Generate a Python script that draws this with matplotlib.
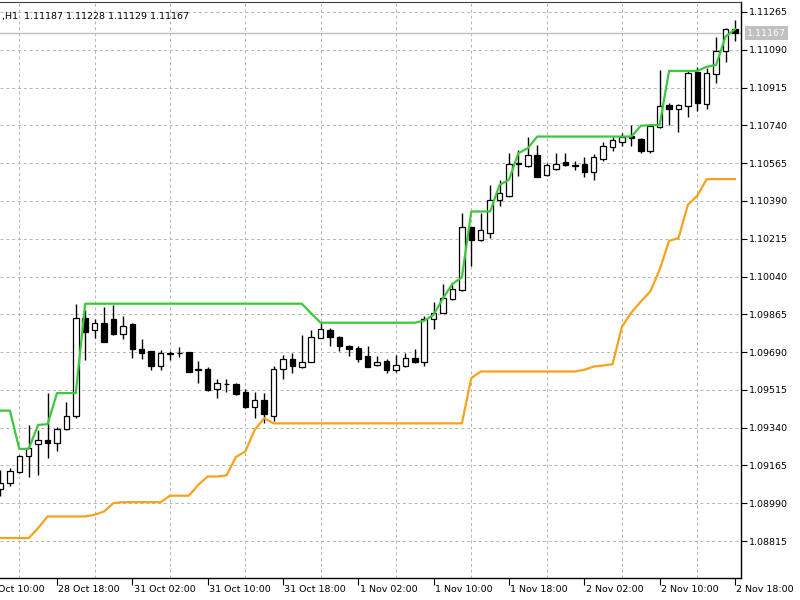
import numpy as np
import matplotlib.pyplot as plt
from matplotlib.transforms import blended_transform_factory

# EURUSD H1 bars, oldest first
opens = [1.09056, 1.09083, 1.09137, 1.09210, 1.09265, 1.09281, 1.09269, 1.09333, 1.09392, 1.09847,
         1.09793, 1.09827, 1.09843, 1.09775, 1.09820, 1.09705, 1.09693, 1.09626, 1.09682, 1.09687,
         1.09690, 1.09610, 1.09611, 1.09519, 1.09543, 1.09543, 1.09505, 1.09438, 1.09469, 1.09395,
         1.09611, 1.09657, 1.09623, 1.09646, 1.09757, 1.09790, 1.09759, 1.09716, 1.09708, 1.09673,
         1.09628, 1.09650, 1.09605, 1.09626, 1.09662, 1.09642, 1.09843, 1.09873, 1.09935, 1.09978,
         1.10269, 1.10210, 1.10241, 1.10392, 1.10414, 1.10564, 1.10552, 1.10603, 1.10511, 1.10537,
         1.10572, 1.10555, 1.10562, 1.10526, 1.10585, 1.10639, 1.10665, 1.10691, 1.10676, 1.10623,
         1.10734, 1.10835, 1.10815, 1.10830, 1.10989, 1.10839, 1.10978, 1.11082, 1.11187]
highs = [1.09145, 1.09153, 1.09214, 1.09353, 1.09330, 1.09500, 1.09345, 1.09457, 1.09914, 1.09886,
         1.09843, 1.09901, 1.09909, 1.09855, 1.09824, 1.09750, 1.09696, 1.09700, 1.09696, 1.09713,
         1.09691, 1.09651, 1.09620, 1.09565, 1.09565, 1.09549, 1.09520, 1.09507, 1.09500, 1.09626,
         1.09677, 1.09685, 1.09767, 1.09793, 1.09827, 1.09801, 1.09765, 1.09724, 1.09719, 1.09716,
         1.09673, 1.09657, 1.09677, 1.09688, 1.09704, 1.09858, 1.09924, 1.10006, 1.10009, 1.10336,
         1.10271, 1.10336, 1.10464, 1.10488, 1.10611, 1.10627, 1.10688, 1.10650, 1.10565, 1.10611,
         1.10614, 1.10577, 1.10593, 1.10608, 1.10664, 1.10684, 1.10704, 1.10742, 1.10681, 1.10742,
         1.10994, 1.10843, 1.10838, 1.10997, 1.11012, 1.11005, 1.11151, 1.11190, 1.11228]
lows = [1.09025, 1.09072, 1.09132, 1.09111, 1.09122, 1.09199, 1.09234, 1.09330, 1.09386, 1.09654,
        1.09755, 1.09736, 1.09770, 1.09750, 1.09662, 1.09659, 1.09608, 1.09605, 1.09654, 1.09667,
        1.09597, 1.09549, 1.09512, 1.09477, 1.09507, 1.09492, 1.09431, 1.09384, 1.09361, 1.09369,
        1.09565, 1.09593, 1.09618, 1.09642, 1.09755, 1.09719, 1.09697, 1.09673, 1.09646, 1.09620,
        1.09624, 1.09593, 1.09600, 1.09620, 1.09639, 1.09626, 1.09796, 1.09870, 1.09929, 1.09975,
        1.10089, 1.10206, 1.10218, 1.10367, 1.10410, 1.10506, 1.10549, 1.10500, 1.10506, 1.10534,
        1.10552, 1.10534, 1.10500, 1.10488, 1.10576, 1.10622, 1.10642, 1.10642, 1.10611, 1.10614,
        1.10727, 1.10742, 1.10711, 1.10778, 1.10804, 1.10815, 1.10938, 1.11035, 1.11129]
closes = [1.09083, 1.09140, 1.09207, 1.09245, 1.09281, 1.09271, 1.09333, 1.09395, 1.09847, 1.09785,
          1.09827, 1.09739, 1.09773, 1.09813, 1.09704, 1.09688, 1.09626, 1.09685, 1.09687, 1.09684,
          1.09600, 1.09606, 1.09515, 1.09549, 1.09541, 1.09497, 1.09435, 1.09469, 1.09404, 1.09611,
          1.09657, 1.09626, 1.09646, 1.09759, 1.09798, 1.09759, 1.09716, 1.09704, 1.09657, 1.09623,
          1.09646, 1.09605, 1.09628, 1.09662, 1.09642, 1.09843, 1.09873, 1.09940, 1.09982, 1.10269,
          1.10210, 1.10256, 1.10392, 1.10426, 1.10562, 1.10559, 1.10603, 1.10503, 1.10557, 1.10562,
          1.10557, 1.10553, 1.10526, 1.10594, 1.10642, 1.10671, 1.10685, 1.10681, 1.10619, 1.10738,
          1.10830, 1.10815, 1.10833, 1.10984, 1.10845, 1.10981, 1.11082, 1.11185, 1.11167]

# indicator lines
upper_line = ([1.09419, 1.09419, 1.09242, 1.09242, 1.09353, 1.09356, 1.09500, 1.09500, 1.09500]
              + [1.09914] * 24 + [1.09869] + [1.09826] * 11
              + [1.09835, 1.09863, 1.09940, 1.10006, 1.10036]
              + [1.10341] * 3 + [1.10464, 1.10488, 1.10611, 1.10634]
              + [1.10688] * 11 + [1.10738, 1.10741, 1.10741]
              + [1.10992] * 4 + [1.11011, 1.11020, 1.11151, 1.11185])
lower_line = ([1.08829] * 4 + [1.08875] + [1.08929] * 5 + [1.08937, 1.08952, 1.08991]
              + [1.08995] * 5 + [1.09025] * 3 + [1.09075, 1.09114, 1.09114, 1.09119,
                                                 1.09204, 1.09230, 1.09330, 1.09384]
              + [1.09360] * 21 + [1.09570] + [1.09600] * 11
              + [1.09608, 1.09623, 1.09628, 1.09634, 1.09808, 1.09873, 1.09924, 1.09970,
                 1.10071, 1.10205, 1.10218, 1.10372, 1.10414]
              + [1.10491] * 4)

price_ticks = [1.08815, 1.08990, 1.09165, 1.09340, 1.09515, 1.09690, 1.09865, 1.10040,
               1.10215, 1.10390, 1.10565, 1.10740, 1.10915, 1.11090, 1.11265]
time_labels = ["28 Oct 10:00", "28 Oct 18:00", "31 Oct 02:00", "31 Oct 10:00", "31 Oct 18:00",
               "1 Nov 02:00", "1 Nov 10:00", "1 Nov 18:00", "2 Nov 02:00", "2 Nov 10:00",
               "2 Nov 18:00"]
time_label_bars = [-2, 6, 14, 22, 30, 38, 46, 54, 62, 70, 78]
header = ",H1  1.11187 1.11228 1.11129 1.11167"
last_price = closes[-1]

plt.rcParams['font.family'] = 'DejaVu Sans'
fs = 6.8

fig = plt.figure(figsize=(8, 6), dpi=100)
ax = fig.add_axes([0, 22 / 600, 741 / 800, 576 / 600])

n = len(opens)
x = np.arange(n)
o = np.array(opens); c = np.array(closes)
up = c >= o

# grid
ax.set_xticks(np.arange(2, n, 4), minor=True)
ax.grid(True, which='minor', axis='x', color='#b4b4b4', linestyle=(0, (3, 3)), linewidth=0.7)
ax.grid(True, which='major', axis='y', color='#b4b4b4', linestyle=(0, (3, 3)), linewidth=0.7)
ax.set_axisbelow(True)

# current price line
ax.axhline(last_price, color='#c0c0c0', linewidth=1, zorder=1)

# candles
ax.vlines(x, lows, highs, color='black', linewidth=1, zorder=2)
ax.bar(x, np.abs(c - o), bottom=np.minimum(o, c), width=0.58,
       color=np.where(up, 'white', 'black'), edgecolor='black', linewidth=0.9, zorder=3)

# indicator lines
ax.plot(x, upper_line, color='#3cc83c', linewidth=1.6, zorder=4)
ax.plot(x, lower_line, color='#f5a31a', linewidth=1.6, zorder=4)

ax.set_xlim(-0.05, 78.64)
ax.set_ylim(1.08644, 1.11311)

# axes styling
ax.spines['left'].set_visible(False)
ax.spines['top'].set_color('#404040')
for s in ('right', 'bottom'):
    ax.spines[s].set_color('black')
    ax.spines[s].set_linewidth(1)

ax.yaxis.tick_right()
ax.set_yticks(price_ticks)
ax.set_yticklabels(['%.5f' % v for v in price_ticks])
ax.tick_params(axis='y', which='major', direction='out', length=4, width=0.8, pad=2,
               labelsize=fs, colors='black')

vis = [b for b in time_label_bars if b >= 0]
ax.set_xticks(vis)
ax.set_xticklabels([])
ax.tick_params(axis='x', which='major', direction='out', length=5, width=0.8)
ax.tick_params(axis='x', which='minor', length=0)

for lbl, b in zip(time_labels, time_label_bars):
    ax.annotate(lbl, xy=(b, 0), xycoords=('data', 'axes fraction'), xytext=(1, -5),
                textcoords='offset points', ha='left', va='top', fontsize=fs,
                annotation_clip=False)

# price box on the axis
tr = blended_transform_factory(ax.transAxes, ax.transData)
ax.text(1.008, last_price, '%.5f' % last_price, transform=tr, ha='left', va='center',
        fontsize=fs, color='white',
        bbox=dict(boxstyle='square,pad=0.25', facecolor='#c0c0c0', edgecolor='none'))

fig.text(2 / 800, 1 - 16 / 600, header, ha='left', va='center', fontsize=fs, color='black')

plt.savefig('out.png', dpi=100)
